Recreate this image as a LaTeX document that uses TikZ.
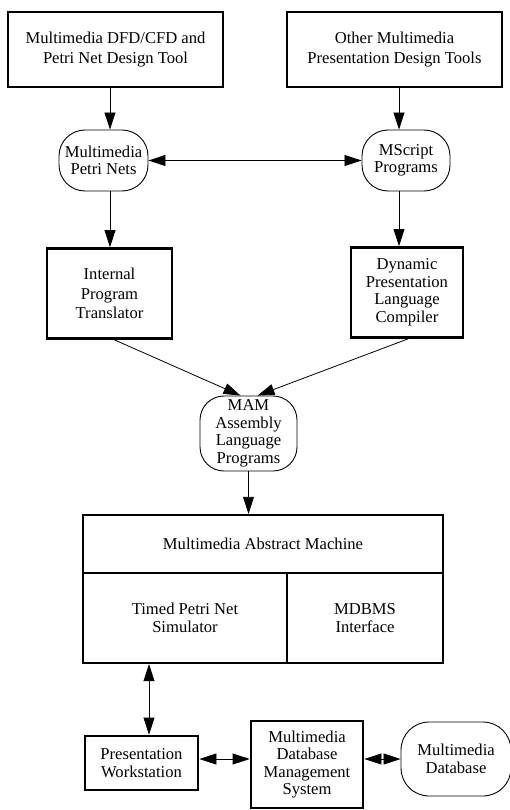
\documentclass[tikz,border=0pt]{standalone}
\usepackage{fontspec}
\setmainfont{Liberation Serif}
\usetikzlibrary{arrows.meta,positioning}
\tikzset{
  every node/.style={font=\fontsize{16.6}{17.5}\selectfont,align=center,inner sep=2pt},
  box/.style={draw,line width=2.8pt},
  cell/.style={draw,line width=2.3pt},
  prog/.style={draw,line width=0.9pt,rounded corners=26pt},
  arrow/.style={-{Triangle[length=17pt,width=11pt]},line width=0.8pt},
  biarrow/.style={{Triangle[length=17pt,width=11pt]}-{Triangle[length=17pt,width=11pt]},line width=0.8pt},
}

\begin{document}
\begin{tikzpicture}[x=1pt,y=-1pt]
\useasboundingbox (0,0) rectangle (510,810);
% design tools
\node[box,minimum width=215pt,minimum height=75pt,font=\fontsize{16.6}{20}\selectfont] (dfdtool) at (115.5,49.5)
{Multimedia DFD/CFD and\\Petri Net Design Tool};
\node[box,minimum width=215pt,minimum height=75pt,font=\fontsize{16.6}{20}\selectfont] (othertools) at (394.5,49.5)
{Other Multimedia\\Presentation Design Tools};
% specifications
\node[prog,minimum width=89pt,minimum height=61pt] (mpn) at (103.5,160.5) {Multimedia\\Petri Nets};
\node[prog,minimum width=88pt,minimum height=61pt] (mscript) at (406,160.5) {MScript\\Programs};
% translators
\node[box,minimum width=125pt,minimum height=90pt,font=\fontsize{16.6}{19.5}\selectfont] (ipt) at (109.5,293.5)
{Internal\\Program\\Translator};
\node[box,minimum width=112pt,minimum height=90pt] (dplc) at (407,292.5)
{Dynamic\\Presentation\\Language\\Compiler};
\node[prog,minimum width=97pt,minimum height=75pt,rounded corners=24pt] (mam) at (248.5,433.5)
{MAM\\Assembly\\Language\\Programs};
% abstract machine
\node[cell,minimum width=360pt,minimum height=58pt] (machine) at (263,544) {Multimedia Abstract Machine};
\node[cell,minimum width=204pt,minimum height=90pt] (tpns) at (185,618) {Timed Petri Net\\Simulator};
\node[cell,minimum width=156pt,minimum height=90pt] (mdbmsif) at (365,618) {MDBMS\\Interface};
% bottom row
\node[box,minimum width=113pt,minimum height=54pt] (pws) at (141.5,763) {Presentation\\Workstation};
\node[box,minimum width=112pt,minimum height=87pt] (mdbms) at (307,764.5)
{Multimedia\\Database\\Management\\System};
\node[prog,minimum width=110pt,minimum height=74pt,rounded corners=28pt] (mdb) at (456,759) {Multimedia\\Database};

\draw[arrow] ([xshift=6.5pt]mpn.north |- dfdtool.south) -- ([xshift=6.5pt]mpn.north);
\draw[arrow] ([xshift=-7pt]mscript.north |- othertools.south) -- ([xshift=-7pt]mscript.north);
\draw[biarrow] (mpn.east) -- (mscript.west);
\draw[arrow] ([xshift=0.5pt]ipt.north |- mpn.south) -- ([xshift=0.5pt]ipt.north);
\draw[arrow] ([xshift=-7pt]mscript.south) -- ([xshift=-7pt]mscript.south |- dplc.north);
\draw[arrow] ([xshift=5pt]ipt.south) -- ([xshift=-8pt]mam.north);
\draw[arrow] ([xshift=1pt]dplc.south) -- ([xshift=9pt]mam.north);
\draw[arrow] (mam.south) -- (mam.south |- machine.north);
\draw[biarrow] ([xshift=7.5pt]pws.north |- tpns.south) -- ([xshift=7.5pt]pws.north);
\draw[biarrow] (pws.east |- mdb.west) -- (mdbms.west |- mdb.west);
\draw[biarrow] (mdbms.east |- mdb.west) -- (mdb.west);
\end{tikzpicture}
\end{document}
